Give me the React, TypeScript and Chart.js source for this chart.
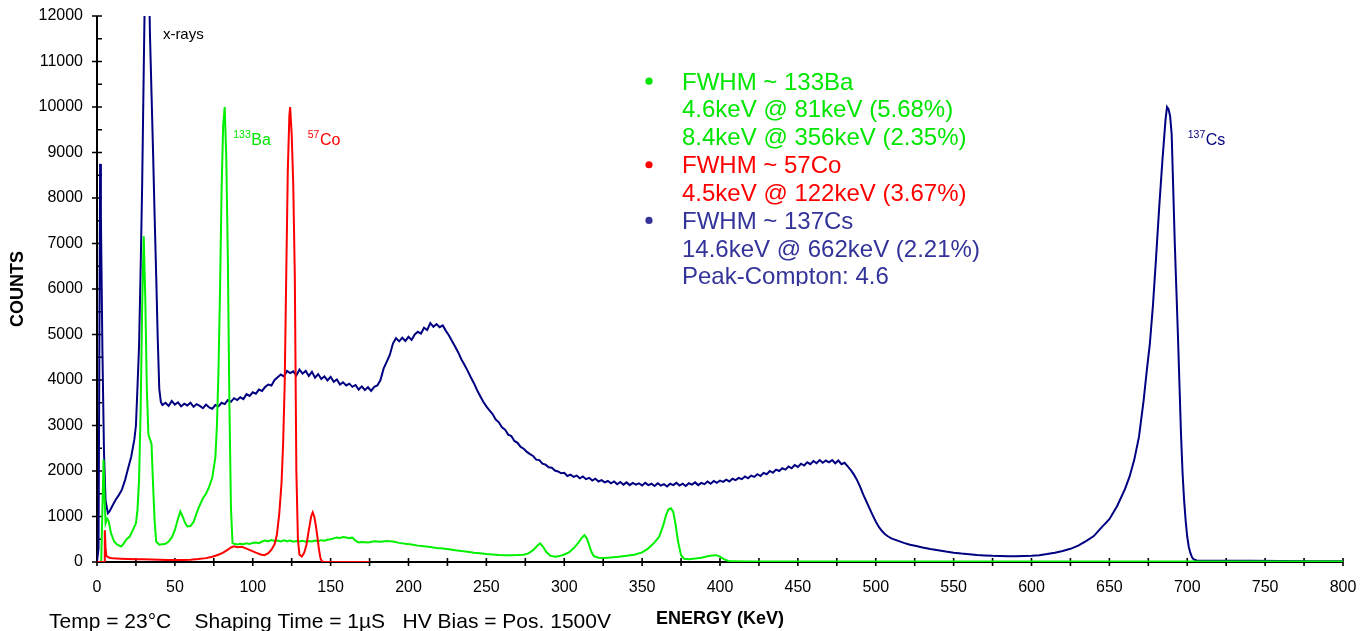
import React, { useEffect, useRef } from "react";
import { Chart, registerables } from "chart.js";

Chart.register(...registerables);

const FONT = "'Liberation Sans', Arial, sans-serif";

// [energy keV, counts]
const cs137Spectrum: [number, number][] = [
  [0, 0], [1, 300], [2, 8750], [2.5, 7600], [3.5, 4600], [4.5, 2400], [5.5, 1350], [7, 1070], [8, 1110],
  [10, 1240], [12, 1370], [14, 1470], [16, 1590], [18, 1800], [20, 2060], [22, 2320], [24, 2700], [25, 3000],
  [26, 3850], [27, 4750], [28, 6400], [29, 8300], [30, 10800], [31, 13200], [32, 14500], [33, 13500],
  [34, 11600], [35, 10300], [36, 9000], [37, 7600], [38, 6300], [39, 4900], [40, 3800], [41, 3520], [42, 3450],
  [44, 3500], [46, 3430], [48, 3540], [50, 3460], [52, 3510], [54, 3420], [56, 3480], [58, 3440], [60, 3500],
  [62, 3410], [64, 3470], [66, 3430], [68, 3380], [70, 3460], [72, 3400], [74, 3370], [76, 3450], [78, 3420],
  [80, 3500], [82, 3470], [84, 3560], [86, 3520], [88, 3600], [90, 3560], [92, 3620], [94, 3580], [96, 3690],
  [98, 3650], [100, 3730], [102, 3700], [104, 3790], [106, 3760], [108, 3850], [110, 3900], [112, 3880],
  [114, 4000], [116, 4060], [118, 4120], [120, 4080], [122, 4200], [124, 4150], [126, 4190], [128, 4100],
  [130, 4230], [132, 4140], [134, 4200], [136, 4090], [138, 4180], [140, 4050], [142, 4130], [144, 4020],
  [146, 4080], [148, 3990], [150, 4070], [152, 3960], [154, 4010], [156, 3900], [158, 3950], [160, 3880],
  [162, 3920], [164, 3850], [166, 3890], [168, 3790], [170, 3860], [172, 3780], [174, 3840], [176, 3760],
  [178, 3850], [180, 3880], [182, 4000], [184, 4250], [186, 4400], [188, 4550], [190, 4800], [192, 4920],
  [194, 4850], [196, 4930], [198, 4860], [200, 4950], [202, 4880], [204, 5000], [206, 5060], [208, 5020],
  [210, 5150], [212, 5100], [214, 5250], [216, 5170], [218, 5230], [220, 5160], [222, 5200], [224, 5080],
  [226, 4980], [228, 4850], [230, 4730], [232, 4600], [234, 4450], [236, 4330], [238, 4200], [240, 4060],
  [242, 3930], [244, 3780], [246, 3650], [248, 3520], [250, 3420], [252, 3330], [254, 3250], [256, 3130],
  [258, 3070], [260, 2960], [262, 2910], [264, 2800], [266, 2770], [268, 2660], [270, 2620], [272, 2530],
  [274, 2490], [276, 2420], [278, 2370], [280, 2330], [282, 2250], [284, 2240], [286, 2160], [288, 2140],
  [290, 2080], [292, 2070], [294, 2010], [296, 1990], [298, 1950], [300, 1960], [302, 1890], [304, 1920],
  [306, 1870], [308, 1900], [310, 1840], [312, 1880], [314, 1820], [316, 1850], [318, 1790], [320, 1830],
  [322, 1770], [324, 1800], [326, 1750], [328, 1780], [330, 1730], [332, 1770], [334, 1710], [336, 1760],
  [338, 1700], [340, 1750], [342, 1690], [344, 1740], [346, 1700], [348, 1730], [350, 1680], [352, 1740],
  [354, 1690], [356, 1720], [358, 1670], [360, 1730], [362, 1680], [364, 1710], [366, 1660], [368, 1720],
  [370, 1690], [372, 1740], [374, 1680], [376, 1720], [378, 1670], [380, 1730], [382, 1700], [384, 1750],
  [386, 1690], [388, 1740], [390, 1710], [392, 1770], [394, 1720], [396, 1780], [398, 1740], [400, 1790],
  [402, 1760], [404, 1810], [406, 1770], [408, 1830], [410, 1800], [412, 1850], [414, 1820], [416, 1880],
  [418, 1840], [420, 1900], [422, 1870], [424, 1930], [426, 1890], [428, 1960], [430, 1930], [432, 2000],
  [434, 1960], [436, 2030], [438, 2000], [440, 2060], [442, 2030], [444, 2100], [446, 2060], [448, 2130],
  [450, 2090], [452, 2160], [454, 2120], [456, 2190], [458, 2150], [460, 2220], [462, 2170], [464, 2240],
  [466, 2180], [468, 2230], [470, 2190], [472, 2240], [474, 2170], [476, 2230], [478, 2150], [480, 2180],
  [482, 2100], [484, 2020], [486, 1920], [488, 1800], [490, 1650], [492, 1480], [494, 1330], [496, 1180],
  [498, 1030], [500, 890], [502, 770], [504, 680], [506, 610], [508, 560], [510, 520], [514, 470], [518, 420],
  [522, 380], [526, 350], [530, 320], [535, 285], [540, 260], [545, 230], [550, 205], [555, 185], [560, 170],
  [565, 155], [570, 145], [575, 135], [580, 130], [585, 125], [590, 128], [595, 130], [600, 135], [605, 150],
  [610, 175], [615, 205], [620, 240], [625, 290], [630, 360], [635, 460], [640, 570], [645, 760], [650, 940],
  [655, 1230], [660, 1600], [663, 1880], [666, 2250], [669, 2750], [672, 3550], [674, 4200], [676, 4800],
  [678, 5650], [680, 6700], [682, 7800], [684, 8800], [686, 9700], [687, 10000], [688, 9950], [689, 9800],
  [690, 9400], [691, 8200], [692, 7000], [693, 6000], [694, 5000], [695, 3900], [696, 2800], [697, 1950],
  [698, 1350], [699, 900], [700, 550], [701, 330], [702, 200], [703, 110], [704, 60], [706, 35], [720, 30],
  [740, 25], [760, 20], [780, 18], [800, 15],
];

const ba133Spectrum: [number, number][] = [
  [0, 0], [2.7, 0], [3.5, 1200], [4.2, 2250], [5, 1300], [5.5, 850], [6.5, 950], [7.5, 900], [9, 630],
  [11, 450], [13, 380], [15.5, 340], [17, 400], [19, 500], [21, 560], [23, 700], [25, 850], [26, 1150],
  [27, 1800], [28, 3300], [29, 5600], [30, 7160], [31, 5800], [32, 3800], [33, 2800], [34, 2700], [35, 2600],
  [36, 1700], [37, 900], [38, 450], [40, 380], [42, 390], [44, 400], [46, 450], [48, 540], [50, 700],
  [52, 950], [53.5, 1110], [55, 1000], [56.5, 860], [58, 780], [60, 790], [62, 880], [64, 1080], [66, 1250],
  [68, 1400], [70, 1500], [72, 1650], [74, 1850], [76, 2300], [77, 3000], [78, 4200], [79, 6000], [80, 8200],
  [81, 9600], [82, 10000], [83, 8900], [84, 6700], [85, 3500], [86, 1200], [87, 420], [88, 400], [90, 385],
  [92, 400], [94, 390], [96, 410], [98, 395], [100, 420], [102, 430], [104, 415], [106, 450], [108, 470],
  [110, 455], [112, 480], [114, 460], [116, 470], [118, 450], [120, 475], [122, 455], [124, 470], [126, 445],
  [128, 460], [130, 450], [132, 465], [134, 445], [136, 460], [138, 450], [140, 470], [142, 455], [144, 480],
  [146, 470], [148, 490], [150, 500], [152, 520], [154, 540], [156, 530], [158, 550], [160, 540], [162, 525],
  [164, 535], [166, 470], [168, 430], [170, 440], [174, 430], [178, 455], [182, 445], [186, 460], [190, 450],
  [194, 420], [198, 400], [202, 385], [206, 360], [210, 345], [214, 330], [218, 310], [222, 295], [226, 280],
  [230, 260], [234, 240], [238, 225], [242, 205], [246, 190], [250, 175], [254, 165], [258, 155], [262, 150],
  [266, 148], [270, 152], [274, 160], [277, 190], [280, 260], [282.5, 350], [284.5, 410], [286.5, 330],
  [288.5, 220], [291, 140], [294, 118], [297, 130], [300, 165], [303, 210], [306, 300], [309, 420], [311, 520],
  [313, 590], [314.5, 520], [316, 370], [317.5, 220], [319, 130], [322, 95], [326, 90], [330, 100], [335, 115],
  [340, 135], [345, 160], [350, 210], [354, 300], [358, 430], [361, 560], [363.5, 800], [365.5, 1050],
  [367, 1160], [368.5, 1180], [370, 1100], [371.5, 820], [373, 460], [375, 150], [377, 70], [380, 60],
  [384, 75], [388, 95], [392, 125], [395, 145], [397.5, 150], [400, 120], [403, 55], [406, 15], [420, 10],
  [500, 10], [600, 10], [700, 10], [800, 10],
];

const co57Spectrum: [number, number][] = [
  [0, 0], [4.5, 0], [5, 700], [5.5, 300], [6, 130], [8, 95], [10, 80], [15, 72], [20, 66], [25, 62], [30, 60],
  [35, 55], [40, 50], [45, 46], [50, 42], [55, 45], [60, 52], [65, 65], [70, 85], [74, 115], [78, 160],
  [81, 205], [84, 270], [86, 320], [88, 345], [90, 325], [93, 335], [96, 295], [99, 250], [102, 205],
  [105, 165], [107.5, 150], [110, 195], [112, 270], [114, 390], [115.5, 600], [117, 1050], [118.5, 1750],
  [119.5, 2600], [120.5, 3900], [121.5, 6300], [122.5, 8600], [123.5, 9800], [124, 10000], [125, 9400],
  [126, 8300], [127, 6300], [128, 2000], [129, 500], [130, 160], [131.5, 120], [133, 200], [134.5, 380],
  [136, 700], [137.5, 1000], [138.5, 1090], [139.5, 1000], [140.5, 800], [141.5, 560], [142.5, 280],
  [143.5, 80], [144.5, 10], [146, 0], [175, 0],
];

const peakLabels = [
  { sup: "133", main: "Ba", energy: 87.5, color: "#00e600" },
  { sup: "57", main: "Co", energy: 135.3, color: "#ff0000" },
  { sup: "137", main: "Cs", energy: 700.3, color: "#000080" },
];

const noteLines = [
  { text: "FWHM ~ 133Ba", color: "#00e600", bullet: true },
  { text: "4.6keV @ 81keV (5.68%)", color: "#00e600", bullet: false },
  { text: "8.4keV @ 356keV (2.35%)", color: "#00e600", bullet: false },
  { text: "FWHM ~ 57Co", color: "#ff0000", bullet: true },
  { text: "4.5keV @ 122keV (3.67%)", color: "#ff0000", bullet: false },
  { text: "FWHM ~ 137Cs", color: "#333399", bullet: true },
  { text: "14.6keV @ 662keV (2.21%)", color: "#333399", bullet: false },
  { text: "Peak-Compton: 4.6", color: "#333399", bullet: false },
];

const conditionsText = "Temp = 23°C    Shaping Time = 1µS   HV Bias = Pos. 1500V";

const X_MIN = 0, X_MAX = 800, X_MAJOR = 50, X_MINOR = 25;
const Y_MIN = 0, Y_MAX = 12000, Y_MAJOR = 1000, Y_MINOR = 500;

const toPoints = (arr: [number, number][]) => arr.map(([x, y]) => ({ x, y }));

const zeroPadding = (s: any) => {
  s.paddingTop = 0;
  s.paddingBottom = 0;
  s.paddingLeft = 0;
  s.paddingRight = 0;
};

const axesPlugin = {
  id: "axesPlugin",
  beforeDatasetsDraw(chart: any) {
    const { ctx, chartArea, scales } = chart;
    const { left, right, top, bottom } = chartArea;
    const x = scales.x, y = scales.y;
    ctx.save();
    ctx.strokeStyle = "#000";
    ctx.lineWidth = 2;
    ctx.beginPath();
    ctx.moveTo(left, top);
    ctx.lineTo(left, bottom);
    ctx.lineTo(right, bottom);
    ctx.stroke();
    ctx.lineWidth = 1.6;
    ctx.beginPath();
    for (let v = Y_MIN; v <= Y_MAX; v += Y_MINOR) {
      const py = y.getPixelForValue(v);
      const major = v % Y_MAJOR === 0;
      ctx.moveTo(major ? left - 5 : left, py);
      ctx.lineTo(left + 5, py);
    }
    for (let v = X_MIN; v <= X_MAX; v += X_MINOR) {
      const px = x.getPixelForValue(v);
      ctx.moveTo(px, bottom - 4);
      ctx.lineTo(px, bottom + 4);
    }
    ctx.stroke();
    ctx.restore();
  },
  afterDatasetsDraw(chart: any) {
    const { ctx, scales } = chart;
    const x = scales.x;
    ctx.save();
    ctx.textBaseline = "alphabetic";
    ctx.textAlign = "left";
    ctx.fillStyle = "#000";
    ctx.font = `15px ${FONT}`;
    ctx.fillText("x-rays", x.getPixelForValue(42.3), 39);
    for (const p of peakLabels) {
      const px = x.getPixelForValue(p.energy);
      ctx.fillStyle = p.color;
      ctx.font = `10.5px ${FONT}`;
      ctx.fillText(p.sup, px, 137.5);
      const w = ctx.measureText(p.sup).width;
      ctx.font = `16px ${FONT}`;
      ctx.fillText(p.main, px + w + 0.5, 145);
    }
    ctx.save();
    ctx.beginPath();
    ctx.rect(600, 0, 500, 286);
    ctx.clip();
    ctx.font = `24px ${FONT}`;
    noteLines.forEach((ln, i) => {
      const base = 89.5 + i * 27.85;
      ctx.fillStyle = ln.color;
      ctx.fillText(ln.text, 682, base);
      if (ln.bullet) {
        ctx.beginPath();
        ctx.arc(649, base - 8.3, 3.6, 0, Math.PI * 2);
        ctx.fill();
      }
    });
    ctx.restore();
    ctx.fillStyle = "#000";
    ctx.font = `21px ${FONT}`;
    ctx.fillText(conditionsText, 49, 627.5);
    ctx.restore();
  },
};

export default function App() {
  const ref = useRef<HTMLCanvasElement | null>(null);
  useEffect(() => {
    if (!ref.current) return;
    const chart = new Chart(ref.current, {
      type: "line",
      data: {
        datasets: [
          { label: "57Co", data: toPoints(co57Spectrum), borderColor: "#ff0000", borderWidth: 2 },
          { label: "133Ba", data: toPoints(ba133Spectrum), borderColor: "#00f000", borderWidth: 2 },
          { label: "137Cs", data: toPoints(cs137Spectrum), borderColor: "#000080", borderWidth: 2 },
        ],
      },
      options: {
        animation: false,
        responsive: false,
        layout: { padding: { left: 0, right: 26, top: 16, bottom: 0 } },
        elements: { point: { radius: 0 }, line: { tension: 0, fill: false } },
        plugins: { legend: { display: false }, tooltip: { enabled: false } },
        scales: {
          x: {
            type: "linear",
            min: X_MIN,
            max: X_MAX,
            afterFit: (s: any) => { s.height = 69; zeroPadding(s); },
            grid: { display: false, drawTicks: false },
            border: { display: false },
            ticks: {
              stepSize: X_MAJOR,
              autoSkip: false,
              maxRotation: 0,
              padding: 16,
              color: "#000",
              font: { family: FONT, size: 16 },
              callback: (v: any) => String(v),
            },
            title: {
              display: true,
              text: "ENERGY (KeV)",
              color: "#000",
              font: { family: FONT, size: 18, weight: "bold" },
              padding: { top: 0, bottom: 1 },
            },
          },
          y: {
            min: Y_MIN,
            max: Y_MAX,
            afterFit: (s: any) => { s.width = 97; zeroPadding(s); },
            grid: { display: false, drawTicks: false },
            border: { display: false },
            ticks: {
              stepSize: Y_MAJOR,
              autoSkip: false,
              padding: 14,
              color: "#000",
              font: { family: FONT, size: 16 },
              callback: (v: any) => String(v),
            },
            title: {
              display: true,
              text: "COUNTS",
              color: "#000",
              font: { family: FONT, size: 18, weight: "bold" },
              padding: { top: 7, bottom: 0 },
            },
          },
        },
      },
      plugins: [axesPlugin],
    } as any);
    return () => chart.destroy();
  }, []);
  return (
    <canvas
      ref={ref}
      width={1369}
      height={631}
      style={{ position: "absolute", left: 0, top: 0, display: "block", background: "#fff" }}
    />
  );
}
